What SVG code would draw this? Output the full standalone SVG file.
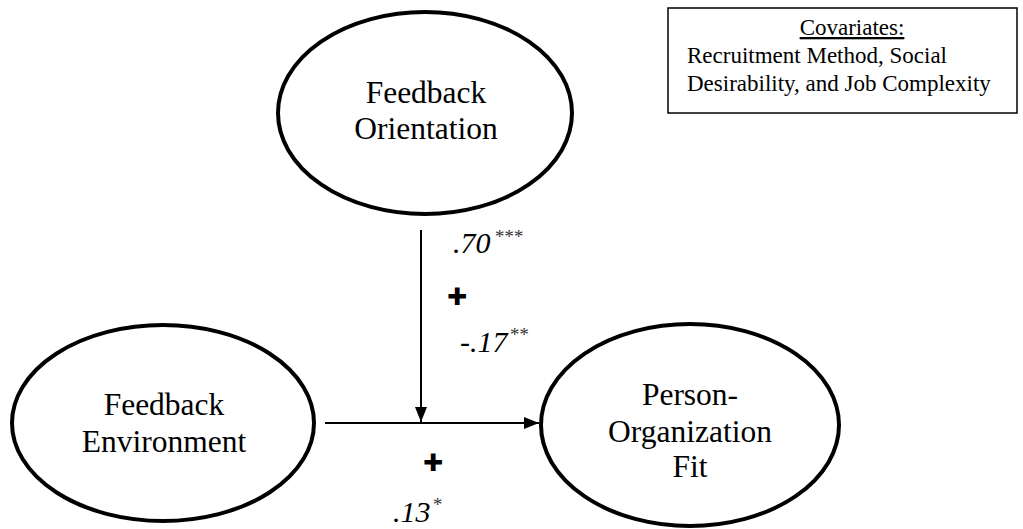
<svg xmlns="http://www.w3.org/2000/svg" width="1023" height="529" viewBox="0 0 1023 529">
<style>
.node{fill:#fff;stroke:#000;stroke-width:4}
.lbl{font-family:"Liberation Serif","Times New Roman",serif;font-size:31.5px;fill:#000;text-anchor:middle}
.cov{font-family:"Liberation Serif","Times New Roman",serif;font-size:23px;fill:#000}
.coef{font-family:"Liberation Serif","Times New Roman",serif;font-size:30px;font-style:italic;fill:#000}
.sup{font-family:"Liberation Serif","Times New Roman",serif;font-size:19px;font-style:italic;fill:#333}
.plus{font-family:"DejaVu Sans",sans-serif;font-size:24px;fill:#000;text-anchor:middle}
.edge{stroke:#000;stroke-width:2;fill:none}
</style>
<defs>
<marker id="arr" viewBox="0 0 15 12" refX="15" refY="6" markerWidth="15" markerHeight="12" markerUnits="userSpaceOnUse" orient="auto">
<path d="M0,0 L15,6 L0,12 Z" fill="#000"/>
</marker>
</defs>
<rect width="1023" height="529" fill="#fff"/>
<g id="covariates">
<rect x="668" y="8" width="349" height="105" fill="#fff" stroke="#000" stroke-width="1.5"/>
<text class="cov" x="852" y="35" text-anchor="middle" text-decoration="underline">Covariates:</text>
<text class="cov" x="687" y="63">Recruitment Method, Social</text>
<text class="cov" x="687" y="91">Desirability, and Job Complexity</text>
</g>
<g id="feedback-orientation">
<ellipse class="node" cx="425" cy="113" rx="147" ry="101"/>
<text class="lbl" x="426" y="103">Feedback</text>
<text class="lbl" x="426" y="139">Orientation</text>
</g>
<g id="feedback-environment">
<ellipse class="node" cx="163" cy="423" rx="151" ry="98"/>
<text class="lbl" x="164" y="415">Feedback</text>
<text class="lbl" x="164" y="452">Environment</text>
</g>
<g id="person-organization-fit">
<ellipse class="node" cx="690" cy="425" rx="149" ry="101" stroke-width="5"/>
<text class="lbl" x="690" y="405">Person-</text>
<text class="lbl" x="690" y="442">Organization</text>
<text class="lbl" x="690" y="477">Fit</text>
</g>
<g id="connectors">
<line class="edge" x1="325" y1="423" x2="539" y2="423" marker-end="url(#arr)"/>
<line class="edge" x1="421" y1="230" x2="421" y2="422" marker-end="url(#arr)"/>
</g>
<g id="labels">
<text class="coef" x="453" y="253">.70</text>
<text class="sup" x="494" y="243">***</text>
<text class="plus" x="457" y="305">✚</text>
<text class="coef" x="460" y="352">-.17</text>
<text class="sup" x="509" y="341">**</text>
<text class="plus" x="433" y="471">✚</text>
<text class="coef" x="393" y="522">.13</text>
<text class="sup" x="432" y="511">*</text>
</g>
</svg>
